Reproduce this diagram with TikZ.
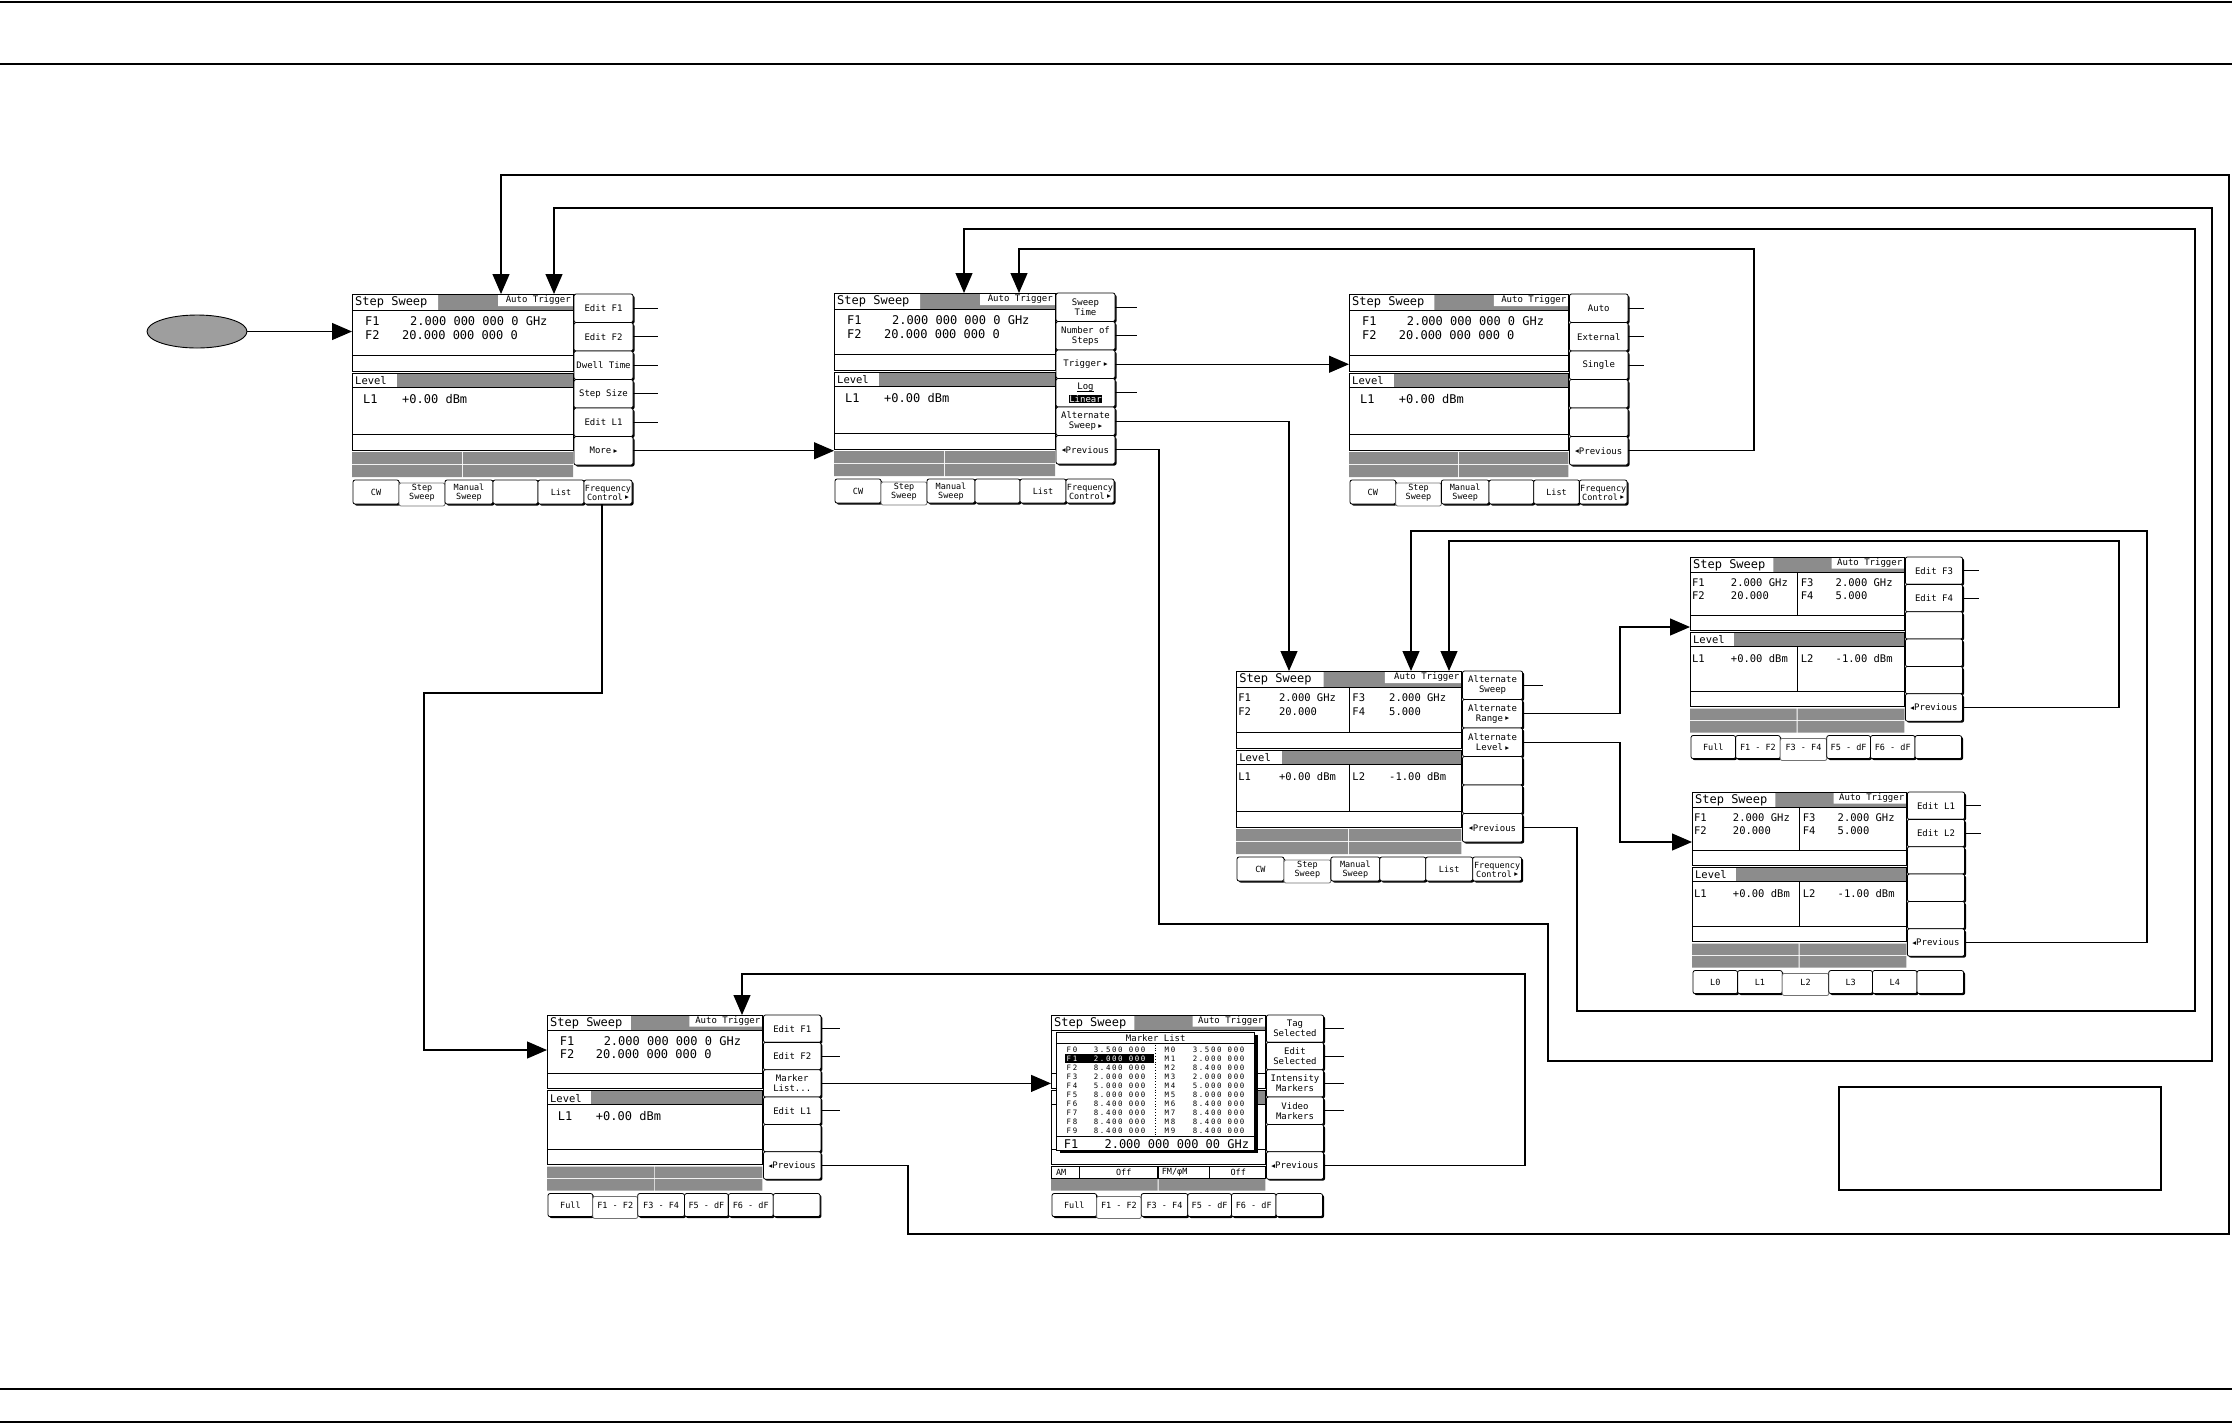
\documentclass[tikz,border=0pt]{standalone}
\usepackage{fontspec}
\setmainfont{Liberation Sans}
\newfontfamily\scr{DejaVu Sans Mono}
\newfontfamily\scrwide[LetterSpace=22]{DejaVu Sans Mono}
\newfontfamily\symf{DejaVu Sans}
\usetikzlibrary{arrows.meta,calc,shapes.geometric}

\newcommand{\tri}{{\symf\fontsize{7.5}{7.5}\selectfont\ \raisebox{0.3pt}{▸}}}
\newcommand{\irt}{{\symf\fontsize{7.5}{7.5}\selectfont\raisebox{0.3pt}{◂}}}
\newcommand{\threedots}{.\kern0pt.\kern0pt.}

\tikzset{
  scrframe/.style={draw, line width=0.9pt},
  hatch/.style={fill=black!45},
  softkey/.style={draw, fill=white, line width=0.8pt, rounded corners=2pt},
  keyshade/.style={fill=black, rounded corners=2pt},
  txtbig/.style={font=\scr\fontsize{12}{12}\selectfont, inner sep=0pt},
  txtmid/.style={font=\scr\fontsize{10.5}{10.5}\selectfont, inner sep=0pt},
  txtkey/.style={font=\scr\fontsize{9}{10}\selectfont, inner sep=0pt, align=center},
  txtbtn/.style={font=\scr\fontsize{8.5}{9}\selectfont, inner sep=0pt, align=center},
  txtlist/.style={font=\scrwide\fontsize{7.4}{7.4}\selectfont, inner sep=0pt},
  flow/.style={line width=1.2pt, -{Triangle[length=20pt,width=17pt]}},
  stub/.style={line width=1pt},
  rule/.style={line width=1.5pt}
}

% one screen: name, x, y, xscale, yscale, content (0 single, 1 split, 2 none), selected button
\newcommand{\drawscreen}[7]{%
\begin{scope}[shift={(#2,#3)},xscale=#4,yscale=#5]
  \coordinate (#1-nw) at (0,0);
  % title bar and frequency box
  \fill[hatch] (0,0) rectangle (221,16);
  \fill[white] (0,0) rectangle (86,16) (146,0) rectangle (221,12);
  \draw[scrframe] (0,0) rectangle (221,77) (0,16) -- (221,16) (0,61) -- (221,61);
  \node[txtbig,anchor=west] (#1-title) at (3,8.5) {Step Sweep};
  \node[txtkey,anchor=east] (#1-trig) at (219,6) {Auto Trigger};
  % level box
  \fill[hatch] (0,79) rectangle (221,93);
  \fill[white] (0,79) rectangle (45,93);
  \draw[scrframe] (0,79) rectangle (221,156) (0,93) -- (221,93) (0,140) -- (221,140);
  \ifcase#6\relax
    \node[txtmid,anchor=west] (#1-level) at (3,86.5) {Level};
    \node[txtbig,anchor=west] (#1-f1) at (13,27.5) {F1};
    \node[txtbig,anchor=west] (#1-f1v) at (58,27.5) {2.000 000 000 0 GHz};
    \node[txtbig,anchor=west] (#1-f2) at (13,41) {F2};
    \node[txtbig,anchor=west] (#1-f2v) at (50,41) {20.000 000 000 0};
    \node[txtbig,anchor=west] (#1-l1) at (11,105) {L1};
    \node[txtbig,anchor=west] (#1-l1v) at (50,105) {+0.00 dBm};
  \or
    \node[txtmid,anchor=west] (#1-level) at (3,86.5) {Level};
    \draw[scrframe] (111,16) -- (111,61) (111,93) -- (111,140);
    \node[txtmid,anchor=west] (#1-f1) at (2,27) {F1};
    \node[txtmid,anchor=west] (#1-f1v) at (42,27) {2.000 GHz};
    \node[txtmid,anchor=west] (#1-f2) at (2,40.5) {F2};
    \node[txtmid,anchor=west] (#1-f2v) at (42,40.5) {20.000};
    \node[txtmid,anchor=west] (#1-f3) at (114,27) {F3};
    \node[txtmid,anchor=west] (#1-f3v) at (150,27) {2.000 GHz};
    \node[txtmid,anchor=west] (#1-f4) at (114,40.5) {F4};
    \node[txtmid,anchor=west] (#1-f4v) at (150,40.5) {5.000};
    \node[txtmid,anchor=west] (#1-l1) at (2,106) {L1};
    \node[txtmid,anchor=west] (#1-l1v) at (42,106) {+0.00 dBm};
    \node[txtmid,anchor=west] (#1-l2) at (114,106) {L2};
    \node[txtmid,anchor=west] (#1-l2v) at (150,106) {-1.00 dBm};
  \or
  \fi
  % status bars
  \foreach \y in {158,171}
    \fill[hatch] (0,\y) rectangle (110,\y+12) (111,\y) rectangle (221,\y+12);
  % soft keys
  \foreach \k in {1,...,6}{
    \fill[keyshade] (223.5,{28.5*\k-27}) rectangle (282.5,{28.5*\k+1.5});
    \draw[softkey] (222,{28.5*(\k-1)}) rectangle (281,{28.5*\k});
    \coordinate (#1-k\k) at (281,{28.5*\k-14.25});
    \coordinate (#1-c\k) at (251.5,{28.5*\k-14.25});}
  % bottom buttons
  \foreach \a/\b [count=\i] in {1/47,47/93,93/141,141/186,186/232,232/280}{
    \ifnum\i=#7\relax
      \draw[softkey,draw=black!55] (\a,189) rectangle (\b,212);
    \else
      \fill[keyshade] (\a+1.5,187.5) rectangle (\b+1.5,211.5);
      \draw[softkey] (\a,186) rectangle (\b,210);
    \fi
    \coordinate (#1-b\i) at ({(\a+\b)/2},198.5);}
  \coordinate (#1-fc) at (250,210);
\end{scope}}

\newcommand{\softkeys}[2]{%
  \foreach \lbl [count=\k] in {#2}{%
    \if\relax\detokenize\expandafter{\lbl}\relax\else
      \node[txtkey] (#1-key\k) at (#1-c\k) {\lbl};\fi}}
\newcommand{\bottomkeys}[2]{%
  \foreach \lbl [count=\k] in {#2}{%
    \if\relax\detokenize\expandafter{\lbl}\relax\else
      \node[txtbtn] (#1-btn\k) at (#1-b\k) {\lbl};\fi}}

\begin{document}
\begin{tikzpicture}[x=1pt,y=-1pt]
\useasboundingbox (0,0) rectangle (2232,1425);
\draw[rule] (0,2) -- (2232,2) (0,64) -- (2232,64) (0,1389) -- (2232,1389) (0,1422) -- (2232,1422);

\node[ellipse,draw,line width=0.9pt,fill=black!38,minimum width=100pt,minimum height=33pt] (start) at (197,331.5) {};

\drawscreen{s1}{352}{294}{1}{1}{0}{2}
\drawscreen{s2}{834}{293}{1}{1}{0}{2}
\drawscreen{s3}{1349}{294}{0.993}{1}{0}{2}
\drawscreen{s4}{1236}{671}{1.02}{1}{1}{2}
\drawscreen{s5}{1690}{557}{0.97}{0.96}{1}{3}
\drawscreen{s6}{1692}{792}{0.97}{0.96}{1}{3}
\drawscreen{s7}{547}{1015}{0.975}{0.96}{0}{2}
\drawscreen{s8}{1051}{1015}{0.97}{0.96}{2}{2}

\softkeys{s1}{{Edit F1},{Edit F2},{Dwell Time},{Step Size},{Edit L1},{More\tri}}
\softkeys{s2}{{Sweep\\Time},{Number of\\Steps},{Trigger\tri},{},{Alternate\\Sweep\tri},{\irt Previous}}
\node[txtkey] (s2-log) at ($(s2-c4)+(0,-6)$) {Log};
\node[txtkey,fill=black,text=white,inner sep=0.6pt] (s2-lin) at ($(s2-c4)+(0,6)$) {Linear};
\draw[line width=0.6pt] (s2-log.south west) -- (s2-log.south east);
\softkeys{s3}{{Auto},{External},{Single},{},{},{\irt Previous}}
\softkeys{s4}{{Alternate\\Sweep},{Alternate\\Range\tri},{Alternate\\Level\tri},{},{},{\irt Previous}}
\softkeys{s5}{{Edit F3},{Edit F4},{},{},{},{\irt Previous}}
\softkeys{s6}{{Edit L1},{Edit L2},{},{},{},{\irt Previous}}
\softkeys{s7}{{Edit F1},{Edit F2},{Marker\\List\threedots},{Edit L1},{},{\irt Previous}}
\softkeys{s8}{{Tag\\Selected},{Edit\\Selected},{Intensity\\Markers},{Video\\Markers},{},{\irt Previous}}

\foreach \s in {s1,s2,s3,s4}{
  \bottomkeys{\s}{{CW},{Step\\Sweep},{Manual\\Sweep},{},{List},{Frequency\\Control\tri}}}
\bottomkeys{s5}{{Full},{F1 - F2},{F3 - F4},{F5 - dF},{F6 - dF},{}}
\bottomkeys{s6}{{L0},{L1},{L2},{L3},{L4},{}}
\bottomkeys{s7}{{Full},{F1 - F2},{F3 - F4},{F5 - dF},{F6 - dF},{}}
\bottomkeys{s8}{{Full},{F1 - F2},{F3 - F4},{F5 - dF},{F6 - dF},{}}

% marker list window over s8
\begin{scope}[shift={(1051,1015)},xscale=0.97,yscale=0.96]
  \fill[white] (0,158) rectangle (221,170);
  \draw[scrframe,line width=0.7pt] (0,158) rectangle (110,170) (111,158) rectangle (221,170)
    (29,158) -- (29,170) (163,158) -- (163,170);
  \node[txtbtn,anchor=west] (s8-am) at (5,164) {AM};
  \node[txtbtn] (s8-amoff) at (75,164) {Off};
  \node[txtbtn,anchor=west] (s8-fm) at (114,164) {FM/φM};
  \node[txtbtn] (s8-fmoff) at (193,164) {Off};
  \fill (9,21) rectangle (213,144);
  \draw[scrframe,fill=white] (6,18) rectangle (210,141);
  \node[txtkey] (s8-mlist) at (108,24) {Marker List};
  \draw[scrframe] (6,30) -- (210,30) (6,127) -- (210,127);
  \draw[dotted,line width=0.8pt] (108,31) -- (108,125);
  \foreach \v [count=\i from 0] in {3.500,2.000,8.400,2.000,5.000,8.000,8.400,8.400,8.400,8.400}{
    \ifnum\i=1 \fill (14,{36+9.4*\i-4.6}) rectangle (106,{36+9.4*\i+4.6}); \def\tc{white}\else\def\tc{black}\fi
    \node[txtlist,anchor=west,text=\tc] (s8-f\i) at (16,{36+9.4*\i}) {F\i};
    \node[txtlist,anchor=west,text=\tc] (s8-fv\i) at (44,{36+9.4*\i}) {\v\ 000};
    \node[txtlist,anchor=west] (s8-m\i) at (117,{36+9.4*\i}) {M\i};
    \node[txtlist,anchor=west] (s8-mv\i) at (146,{36+9.4*\i}) {\v\ 000};}
  \node[txtbig,anchor=west] (s8-f) at (13,134.5) {F1};
  \node[txtbig,anchor=west] (s8-fv) at (55,134.5) {2.000 000 000 00 GHz};
\end{scope}

% short lines from soft keys
\foreach \k in {1,...,5} \draw[stub] (s1-k\k) -- ++(25,0);
\foreach \k in {1,2,4} \draw[stub] (s2-k\k) -- ++(22,0);
\foreach \k in {1,2,3} \draw[stub] (s3-k\k) -- ++(16,0);
\draw[stub] (s4-k1) -- ++(20,0);
\foreach \k in {1,2} \draw[stub] (s5-k\k) -- ++(16,0);
\foreach \k in {1,2} \draw[stub] (s6-k\k) -- ++(16,0);
\foreach \k in {1,2,4} \draw[stub] (s7-k\k) -- ++(19,0);
\foreach \k in {1,...,4} \draw[stub] (s8-k\k) -- ++(20,0);

% menu flow
\draw[flow] (start) -- (start -| s1-nw);
\draw[flow] (s1-k6) -- (s1-k6 -| s2-nw);
\draw[flow] (s1-fc) |- (424,693) |- ($(s7-nw)+(0,35)$);
\draw[flow] (s2-k3) -- (s2-k3 -| s3-nw);
\draw[flow] (s2-k5) -| ($(s4-nw)+(53,0)$);
\draw[flow] (s2-k6) -| (1159,924) -| (1548,1061) -| (2212,208) -| ($(s1-nw)+(202,0)$);
\draw[flow] (s3-k6) -| (1754,249) -| ($(s2-nw)+(185,0)$);
\draw[flow] (s4-k2) -| (1620,627) -- ($(s5-nw)+(0,70)$);
\draw[flow] (s4-k3) -| (1620,842) -- ($(s6-nw)+(0,50)$);
\draw[flow] (s4-k6) -| (1577,1011) -| (2195,229) -| ($(s2-nw)+(130,0)$);
\draw[flow] (s5-k6) -| (2119,541) -| ($(s4-nw)+(213,0)$);
\draw[flow] (s6-k6) -| (2147,531) -| ($(s4-nw)+(175,0)$);
\draw[flow] (s7-k3) -- (s7-k3 -| s8-nw);
\draw[flow] (s7-k6) -| (908,1234) -| (2229,175) -| ($(s1-nw)+(149,0)$);
\draw[flow] (s8-k6) -| (1525,974) -| ($(s7-nw)+(195,0)$);

\draw[line width=1.5pt] (1839,1087) rectangle (2161,1190);
\end{tikzpicture}
\end{document}
